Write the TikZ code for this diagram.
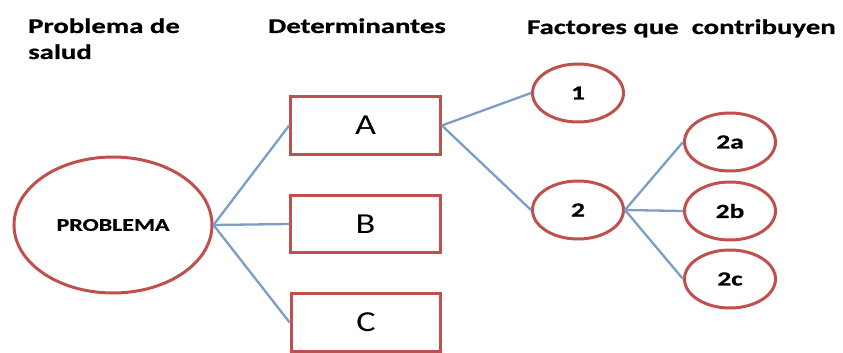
\documentclass[tikz,border=0pt]{standalone}
\usepackage{fontspec}
\setmainfont{Carlito}[BoldFeatures={FakeBold=0.6}]
\usepackage{graphicx}
\usetikzlibrary{shapes.geometric}
\definecolor{rimred}{RGB}{192,80,77}
\definecolor{linkblue}{RGB}{122,158,198}
% horizontally widened text
\newcommand{\wide}[2][1.37]{\scalebox{#1}[1]{#2}}

\begin{document}
\begin{tikzpicture}[x=1pt,y=-1pt,
  heading/.style={anchor=base west, inner sep=0pt, font=\fontsize{21}{26}\selectfont\bfseries},
  oval/.style={draw=rimred, line width=3pt, ellipse, inner sep=0pt,
    minimum width=91pt, minimum height=58pt, font=\fontsize{20}{20}\selectfont\bfseries},
  detbox/.style={draw=rimred, line width=3.2pt, rectangle, inner sep=0pt,
    minimum width=149.5pt, minimum height=57.5pt, font=\fontsize{29}{30}\selectfont},
  link/.style={draw=linkblue, line width=2.3pt}]

\useasboundingbox (0,0) rectangle (843,353);

% column headings
\node[heading] (h1) at (28,33) {\wide{Problema de}};
\node[heading] (h1b) at (28,59) {\wide{salud}};
\node[heading] (h2) at (268,33) {\wide{Determinantes}};
\node[heading] (h3) at (527,34) {\wide{Factores que\ \ contribuyen}};

% health problem
\node[draw=rimred, line width=3pt, ellipse, inner sep=0pt,
      minimum width=198pt, minimum height=136pt,
      font=\fontsize{18}{20}\selectfont\bfseries] (P) at (113,225) {\wide[1.33]{PROBLEMA}};

% determinants
\node[detbox] (A) at (365.5,125.5) {\wide[1.25]{A}};
\node[detbox] (B) at (365.5,224) {\wide[1.25]{B}};
\node[detbox] (C) at (366,322.5) {\wide[1.25]{C}};

% contributing factors
\node[oval] (f1) at (578,93) {\wide{1}};
\node[oval] (f2) at (578,210) {\wide{2}};
\node[oval] (f2a) at (730,142) {\wide{2a}};
\node[oval] (f2b) at (730,211) {\wide{2b}};
\node[oval] (f2c) at (730,279) {\wide{2c}};

% connectors
\draw[link] (P.east) -- (A.west);
\draw[link] (P.east) -- (B.west);
\draw[link] (P.east) -- (C.west);
\draw[link] (A.east) -- (f1.west);
\draw[link] (A.east) -- (f2.west);
\draw[link] (f2.east) -- (f2a.west);
\draw[link] (f2.east) -- (f2b.west);
\draw[link] (f2.east) -- (f2c.west);
\end{tikzpicture}
\end{document}
